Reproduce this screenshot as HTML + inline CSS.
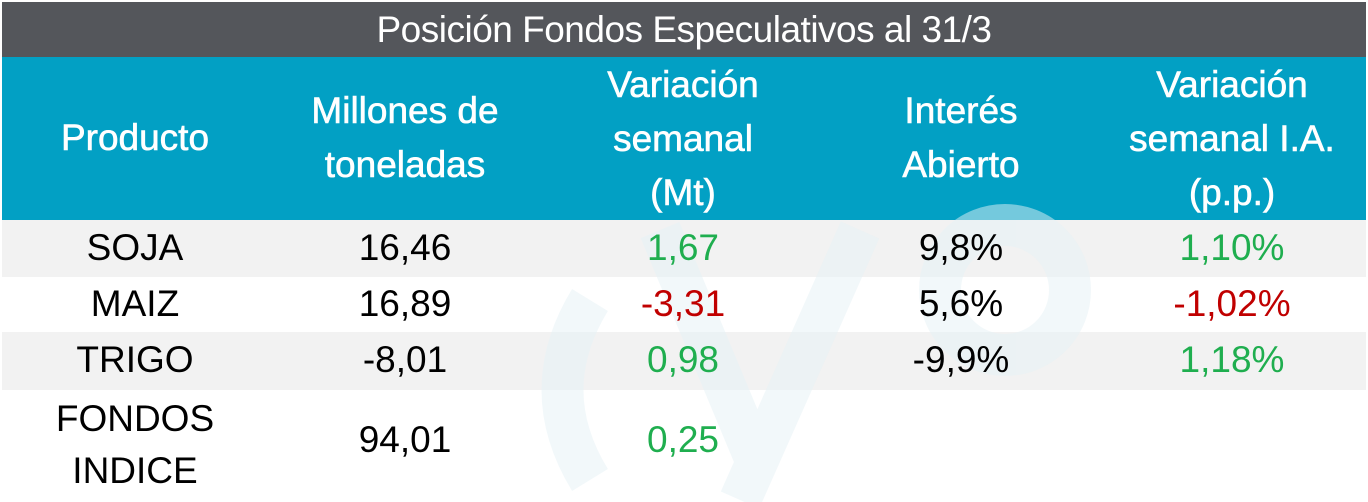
<!DOCTYPE html>
<html><head><meta charset="utf-8"><style>
body{margin:0;width:1368px;height:502px;background:#fff;overflow:hidden;font-family:"Liberation Sans",sans-serif;position:relative}
.abs{position:absolute}
.t{position:absolute;top:2px;left:2px;width:1364px;height:55px;background:#54565b;color:#fff;font-size:37px;text-align:center;line-height:55px;letter-spacing:-0.5px}
.h{position:absolute;top:57px;left:2px;width:1364px;height:163px;background:#02a0c4}
.row{position:absolute;left:2px;width:1364px}
.c{position:absolute;transform:translateX(-50%);text-align:center;white-space:nowrap}
.hd{color:#fff;font-size:37px;line-height:54px;-webkit-text-stroke:0.6px #fff}
.v{font-size:37px;color:#000}
.g{color:#1fae4f}.r{color:#c00000}
</style></head><body>
<div class="t">Posición Fondos Especulativos al 31/3</div>
<div class="h"></div>
<div class="row" style="top:220px;height:57px;background:#f2f2f2"></div>
<div class="row" style="top:332px;height:58px;background:#f2f2f2"></div>
<svg class="abs" style="left:0;top:0" width="1368" height="502">
<g fill="none" stroke="#e6f2f6" stroke-width="42" opacity="0.5">
<path d="M590 300 Q535 390 590 480"/>
<path d="M660 230 L760 470 M860 230 L740 500"/>
<circle cx="1005" cy="290" r="65"/>
</g></svg>
<div class="c hd" style="left:135px;top:111px">Producto</div>
<div class="c hd" style="left:405px;top:84px">Millones de<br>toneladas</div>
<div class="c hd" style="left:683px;top:58px">Variación<br>semanal<br>(Mt)</div>
<div class="c hd" style="left:961px;top:84px">Interés<br>Abierto</div>
<div class="c hd" style="left:1232px;top:58px">Variación<br>semanal I.A.<br>(p.p.)</div>

<div class="c v" style="left:135px;top:227px">SOJA</div>
<div class="c v" style="left:405px;top:227px">16,46</div>
<div class="c v g" style="left:683px;top:227px">1,67</div>
<div class="c v" style="left:961px;top:227px">9,8%</div>
<div class="c v g" style="left:1232px;top:227px">1,10%</div>

<div class="c v" style="left:135px;top:283px">MAIZ</div>
<div class="c v" style="left:405px;top:283px">16,89</div>
<div class="c v r" style="left:683px;top:283px">-3,31</div>
<div class="c v" style="left:961px;top:283px">5,6%</div>
<div class="c v r" style="left:1232px;top:283px">-1,02%</div>

<div class="c v" style="left:135px;top:339px">TRIGO</div>
<div class="c v" style="left:405px;top:339px">-8,01</div>
<div class="c v g" style="left:683px;top:339px">0,98</div>
<div class="c v" style="left:961px;top:339px">-9,9%</div>
<div class="c v g" style="left:1232px;top:339px">1,18%</div>

<div class="c v" style="left:135px;top:393px;line-height:52px">FONDOS<br>INDICE</div>
<div class="c v" style="left:405px;top:419px">94,01</div>
<div class="c v g" style="left:683px;top:419px">0,25</div>
</body></html>
